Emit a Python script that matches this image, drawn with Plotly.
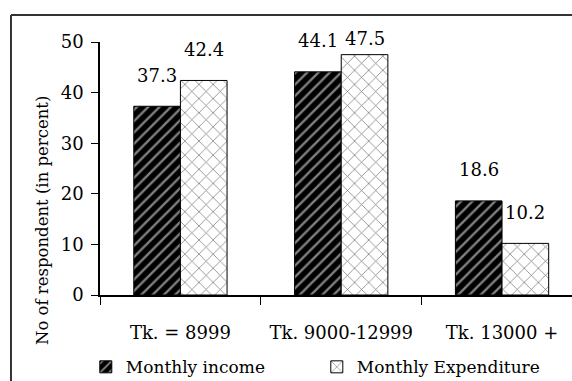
import plotly.graph_objects as go

categories = ["Tk. = 8999", "Tk. 9000-12999", "Tk. 13000 +"]
monthly_income = [37.3, 44.1, 18.6]
monthly_expenditure = [42.4, 47.5, 10.2]
series_names = ["Monthly income", "Monthly Expenditure"]
y_ticks = [0, 10, 20, 30, 40, 50]

FONT = "DejaVu Serif"

fig = go.Figure()
fig.add_trace(go.Bar(
    x=categories, y=monthly_income, name=series_names[0],
    marker=dict(color="black", line=dict(color="black", width=1),
                pattern=dict(shape="/", fgcolor="white", bgcolor="black",
                             size=8, solidity=0.3, fillmode="overlay")),
))
fig.add_trace(go.Bar(
    x=categories, y=monthly_expenditure, name=series_names[1],
    marker=dict(color="white", line=dict(color="black", width=1),
                pattern=dict(shape="x", fgcolor="black", bgcolor="white",
                             size=10, solidity=0.15, fillmode="overlay")),
))

# value labels above each bar
label_shift = [[31, 31, 31], [31, 16, 31]]
offsets = [-0.145, 0.145]
for s, vals in enumerate([monthly_income, monthly_expenditure]):
    for i, v in enumerate(vals):
        fig.add_annotation(
            x=i + offsets[s], y=v, xref="x", yref="y",
            text=f"{v:.1f}", showarrow=False, yshift=label_shift[s][i],
            font=dict(family=FONT, size=18, color="black"),
        )

# y-axis title
fig.add_annotation(
    x=-0.123, y=0.296, xref="paper", yref="paper",
    xanchor="center", yanchor="middle",
    text="No of respondent (in percent)", textangle=-90, showarrow=False,
    font=dict(family=FONT, size=16.5, color="black"),
)

# outer chart frame (top and left edges)
frame = dict(color="#333333", width=2)
fig.add_shape(type="line", xref="paper", yref="paper",
              x0=-0.1886, x1=1.05, y0=1.1067, y1=1.1067, line=frame)
fig.add_shape(type="line", xref="paper", yref="paper",
              x0=-0.1886, x1=-0.1886, y0=-0.4, y1=1.1067, line=frame)

fig.update_layout(
    width=572, height=381,
    margin=dict(l=100, r=0, t=42, b=86, autoexpand=False),
    paper_bgcolor="white", plot_bgcolor="white",
    barmode="group", bargap=0.42, bargroupgap=0,
    font=dict(family=FONT, size=18, color="black"),
    showlegend=True,
    legend=dict(orientation="h", xref="container", yref="container",
                x=0.150, y=0.036, xanchor="left", yanchor="middle",
                font=dict(family=FONT, size=17, color="black"),
                itemwidth=30, entrywidth=186, bgcolor="rgba(0,0,0,0)"),
    xaxis=dict(type="category", range=[-0.5, 2.435], showline=True,
               linecolor="black", linewidth=1.5, ticks="outside",
               tickson="boundaries", ticklen=8, tickcolor="black",
               tickfont=dict(family=FONT, size=18), showgrid=False,
               ticklabelstandoff=21),
    yaxis=dict(range=[0, 50], tickvals=y_ticks, showline=True,
               linecolor="black", linewidth=1.5, ticks="outside", ticklen=7,
               tickcolor="black", tickfont=dict(family=FONT, size=18),
               showgrid=False, zeroline=False, ticklabelstandoff=4),
)

fig.write_html("out.html")
